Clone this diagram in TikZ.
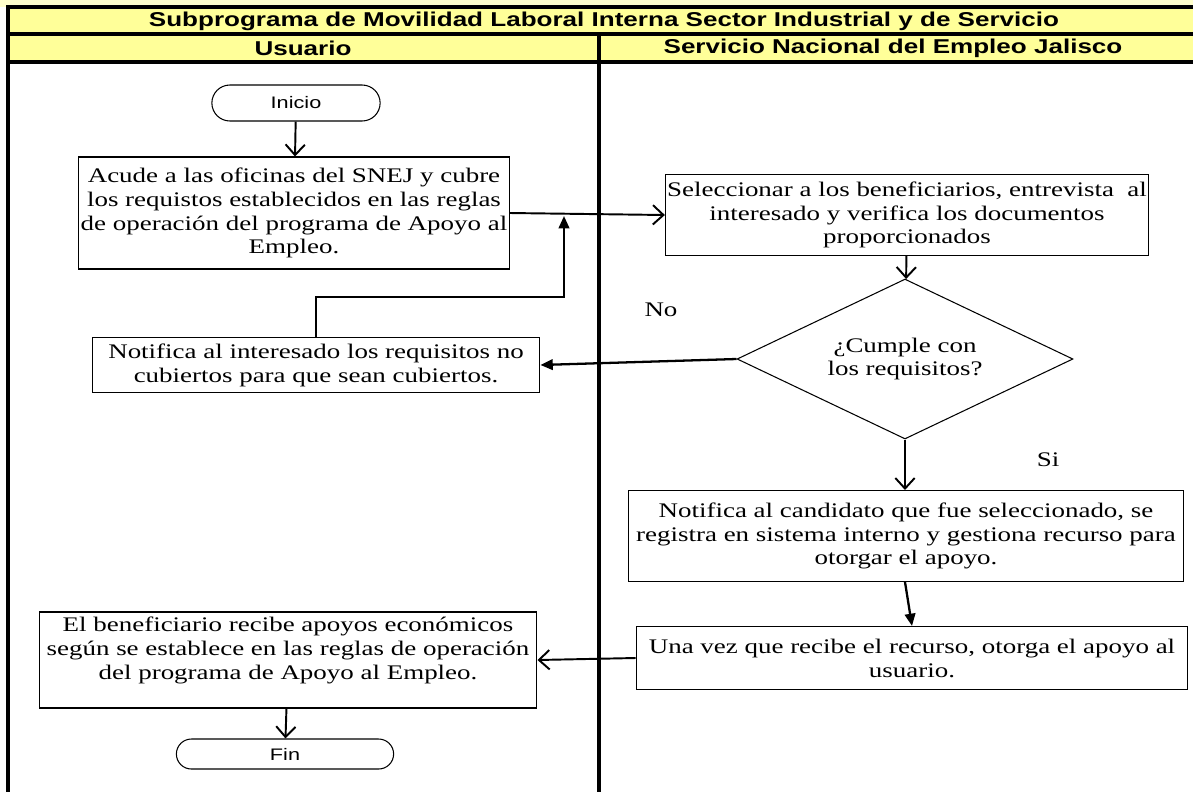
\documentclass[tikz,border=0pt]{standalone}
\usepackage{fontspec}
\setmainfont{Liberation Serif}[FakeStretch=1.3]
\setsansfont{Liberation Sans}[FakeStretch=1.3]
\usetikzlibrary{shapes,arrows.meta,positioning}
\definecolor{hdr}{RGB}{255,255,153}
\definecolor{hdrtop}{RGB}{255,255,204}

\begin{document}
\begin{tikzpicture}[x=0.02cm,y=-0.02cm,
  box/.style={draw,line width=0.6pt,align=center,inner sep=1pt,font=\fontsize{11.8}{13.6}\selectfont},
  term/.style={draw,rounded rectangle,line width=0.6pt,font=\sffamily\fontsize{9.5}{11}\selectfont},
  head/.style={font=\sffamily\bfseries\fontsize{11.4}{12}\selectfont},
  lbl/.style={font=\fontsize{11.8}{13.6}\selectfont},
  flowv/.style={line width=1.1pt,-{Straight Barb[length=6pt,width=11pt,line width=1.1pt]}},
  flowt/.style={line width=1.3pt,-{Triangle[length=7pt,width=6pt]}},
  lane/.style={line width=1.8pt}]
\useasboundingbox (0,0) rectangle (1193,792);
\fill[white] (0,0) rectangle (1193,792);
\fill[hdrtop] (0,0) rectangle (1193,7);
\fill[hdr] (8,7) rectangle (1193,62);
\draw[lane] (1193,7) -- (8,7) -- (8,792);
\draw[lane] (8,34) -- (1193,34);
\draw[lane] (8,62) -- (1193,62);
\draw[lane] (599,34) -- (599,792);
\node[head] (titulo) at (604,21) {Subprograma de Movilidad Laboral Interna Sector Industrial y de Servicio};
\node[head] (usuario) at (303,48) {Usuario};
\node[head] (snej) at (893,48) {Servicio Nacional del Empleo Jalisco};

\node[term,minimum width=3.6cm,minimum height=0.72cm] (inicio) at (296,103) {Inicio};
\node[box,minimum width=8.54cm,minimum height=2.24cm] (acude) at (294,213) {Acude a las oficinas del SNEJ y cubre\\los requistos establecidos en las reglas\\de operación del programa de Apoyo al\\Empleo.};
\node[box,minimum width=9.56cm,minimum height=1.62cm] (selec) at (907,215) {Seleccionar a los beneficiarios, entrevista\ \ al\\interesado y verifica los documentos\\proporcionados};
\node[draw,diamond,aspect=2.1,line width=0.6pt,minimum width=6.72cm,minimum height=3.2cm,inner sep=0pt,align=center,font=\fontsize{11.8}{13.6}\selectfont] (cumple) at (905,359) {¿Cumple con\\los requisitos?};
\node[box,minimum width=8.96cm,minimum height=1.1cm] (notif) at (316,365) {Notifica al interesado los requisitos no\\cubiertos para que sean cubiertos.};
\node[box,minimum width=11.1cm,minimum height=1.82cm] (candid) at (906,536) {Notifica al candidato que fue seleccionado, se\\registra en sistema interno y gestiona recurso para\\otorgar el apoyo.};
\node[box,minimum width=11.04cm,minimum height=1.26cm] (unavez) at (912,658) {Una vez que recibe el recurso, otorga el apoyo al\\usuario.};
\node[box,minimum width=9.96cm,minimum height=1.92cm] (benef) at (288,660) {El beneficiario recibe apoyos económicos\\según se establece en las reglas de operación\\del programa de Apoyo al Empleo.\\\mbox{}};
\node[term,minimum width=4.58cm,minimum height=0.6cm] (fin) at (285,754) {Fin};
\node[lbl] (no) at (661,310) {No};
\node[lbl] (si) at (1048,460) {Si};

\coordinate (bend) at (564,297);
\coordinate (join) at (564,216);

\draw[flowv] (inicio) -- (acude);
\draw[flowv] (acude.east) -- (selec.west);
\draw[flowv] (selec) -- (cumple);
\draw[flowt] (cumple.west) -- (notif.east);
\draw[flowt] (notif.north) |- (bend) -- (join);
\draw[flowv] (cumple.south) -- (candid.north -| cumple.south);
\draw[flowt] (candid.south -| cumple.south) -- (unavez.north);
\draw[flowv] (unavez.west) -- (benef.east);
\draw[flowv] (benef) -- (fin);
\end{tikzpicture}
\end{document}
